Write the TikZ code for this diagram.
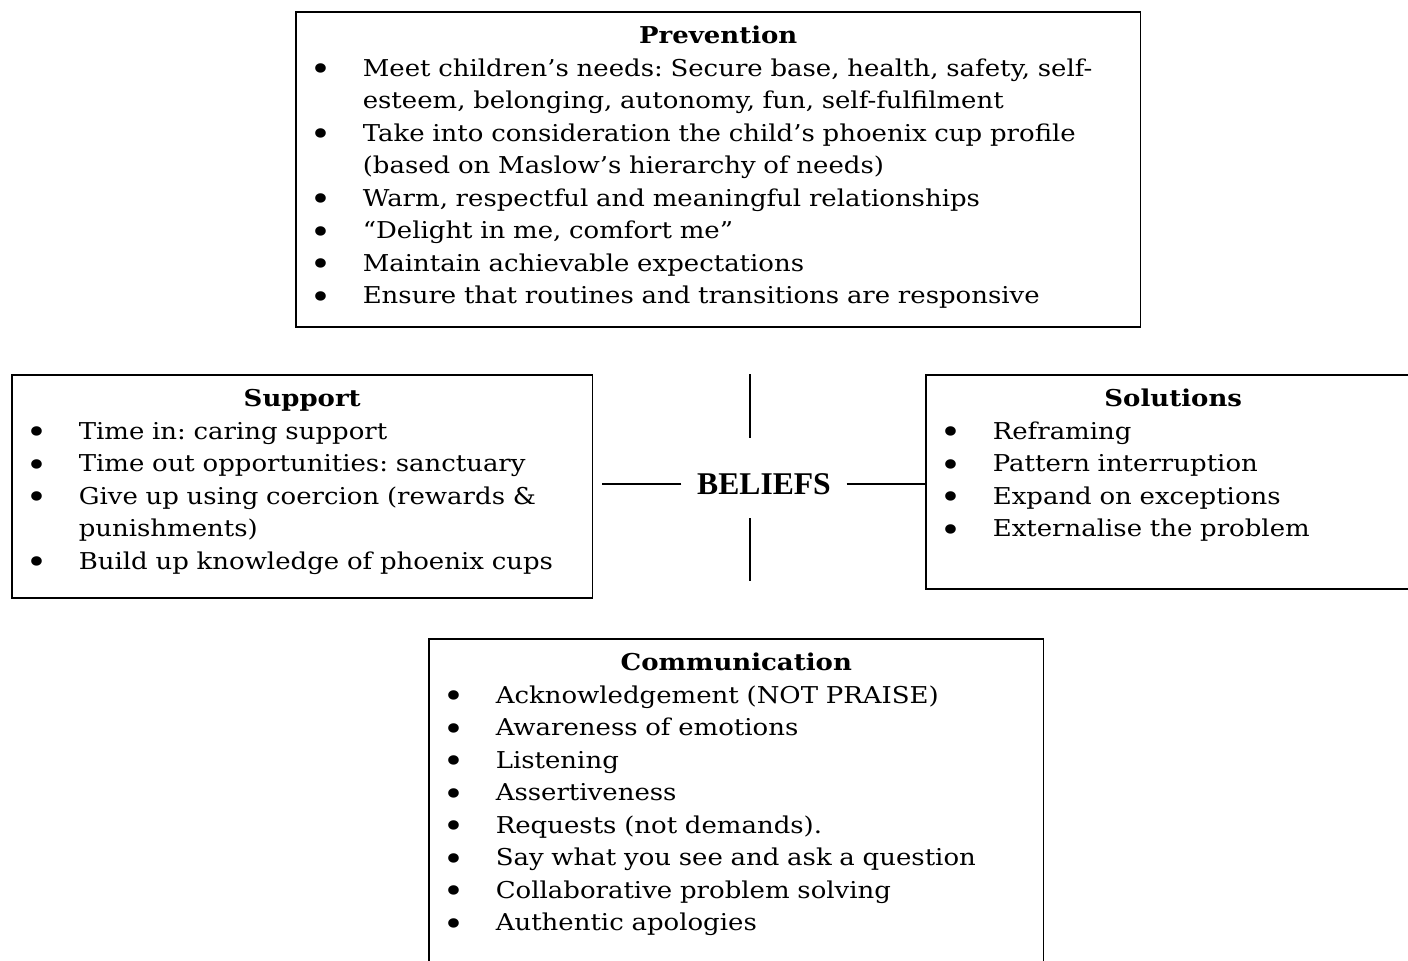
\documentclass[tikz,border=0pt]{standalone}
\usepackage{fontspec}
\setmainfont{DejaVu Serif}[FakeStretch=1.12]
\newfontfamily\hubfont{Liberation Serif}
\usetikzlibrary{positioning}
\setlength{\parskip}{0pt}
\frenchspacing
\newcommand{\bigdot}{\hspace{-0.1cm}\raisebox{-0.19em}{\scalebox{1.4}{\textbullet}}}
\newenvironment{pts}{\begin{list}{\bigdot}{%
  \setlength\leftmargin{0.96cm}\setlength\labelwidth{0.96cm}%
  \setlength\labelsep{0pt}\setlength\itemsep{0pt}\setlength\parsep{0pt}%
  \setlength\topsep{0pt}\setlength\partopsep{0pt}%
  \renewcommand\makelabel[1]{\makebox[\labelwidth][l]{##1}}}}{\end{list}}
\newcommand{\boxhead}[1]{{\centering\textbf{#1}\par}}
\begin{document}
\begin{tikzpicture}[x=0.02cm,y=-0.02cm,line width=0.9pt,
    panel/.style={draw,anchor=north west,inner xsep=0.38cm,inner ysep=0.19cm,
      text height=0.45cm,font=\fontsize{13.2}{18.5}\selectfont},
    hub/.style={inner xsep=0.3cm,font=\hubfont\fontsize{18}{22}\selectfont\bfseries}]
  \clip (0,0) rectangle (1408,960);
  \node[panel,text width=16.14cm,text depth=5.47cm] (prev) at (295,11) {\raggedright
    \boxhead{Prevention}
    \begin{pts}
      \item Meet children’s needs: Secure base, health, safety, self-\newline esteem, belonging, autonomy, fun, self-fulfilment
      \item Take into consideration the child’s phoenix cup profile\newline (based on Maslow’s hierarchy of needs)
      \item Warm, respectful and meaningful relationships
      \item “Delight in me, comfort me”
      \item Maintain achievable expectations
      \item Ensure that routines and transitions are responsive
    \end{pts}};
  \node[panel,text width=10.86cm,text depth=3.63cm] (sup) at (11,374) {\raggedright
    \boxhead{Support}
    \begin{pts}
      \item Time in: caring support
      \item Time out opportunities: sanctuary
      \item Give up using coercion (rewards \&\newline punishments)
      \item Build up knowledge of phoenix cups
    \end{pts}};
  \node[panel,text width=9.14cm,text depth=3.45cm] (sol) at (925,374) {\raggedright
    \boxhead{Solutions}
    \begin{pts}
      \item Reframing
      \item Pattern interruption
      \item Expand on exceptions
      \item Externalise the problem
    \end{pts}};
  \node[panel,text width=11.54cm,text depth=6.41cm] (comm) at (428,638) {\raggedright
    \boxhead{Communication}
    \begin{pts}
      \item Acknowledgement (NOT PRAISE)
      \item Awareness of emotions
      \item Listening
      \item Assertiveness
      \item Requests (not demands).
      \item Say what you see and ask a question
      \item Collaborative problem solving
      \item Authentic apologies
    \end{pts}};
  \node[hub] (beliefs) at (764,484) {BELIEFS};
  % spokes around the centre
  \coordinate (upA) at (750,374);
  \coordinate (upB) at (750,438);
  \coordinate (dnA) at (750,518);
  \coordinate (dnB) at (750,581);
  \draw (upA) -- (upB);
  \draw (dnA) -- (dnB);
  \draw (beliefs.west) -- ([xshift=0.18cm]sup.east |- beliefs.west);
  \draw (beliefs.east) -- (sol.west |- beliefs.east);
\end{tikzpicture}
\end{document}
